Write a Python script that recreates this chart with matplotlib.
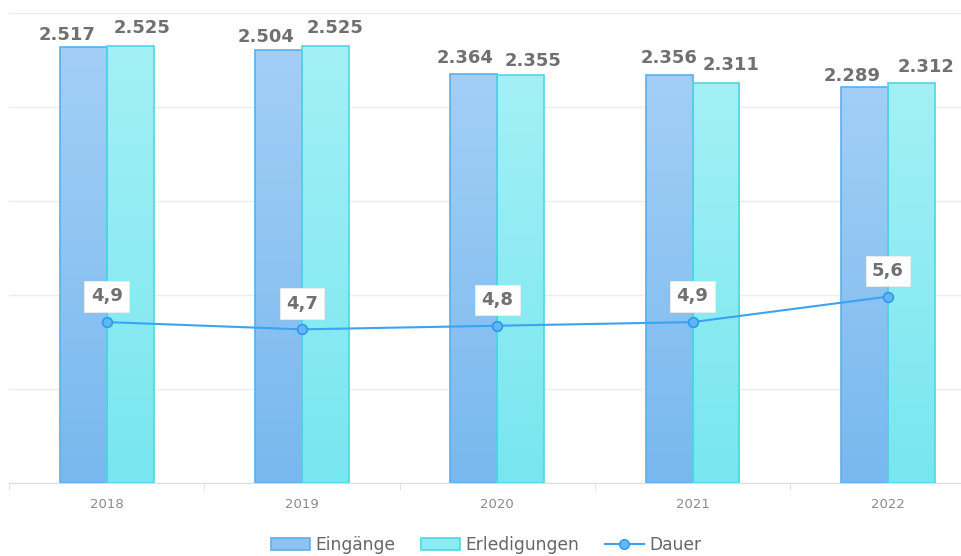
import numpy as np
import matplotlib
matplotlib.use('Agg')
import matplotlib.pyplot as plt
from matplotlib.patches import Patch
from matplotlib.lines import Line2D
from matplotlib.colors import to_rgb

# Data
years = ['2018', '2019', '2020', '2021', '2022']
eingaenge = [2517, 2504, 2364, 2356, 2289]
erledigungen = [2525, 2525, 2355, 2311, 2312]
dauer = [4.9, 4.7, 4.8, 4.9, 5.6]

# label nudges in pixels (the original chart shifts labels to avoid overlap)
left_dx = [-16, -12, -9, 0, -12]
left_dy = [3, 4, 7, 8, 2]
right_dx = [12, 10, 12, 15, 15]
right_dy = [9, 9, 5, 9, 7]

PX = 72 / 100  # points per pixel at dpi 100

def fmt_de(v, dec=0):
    s = f"{v:,.{dec}f}"
    return s.replace(',', 'X').replace('.', ',').replace('X', '.')

def gradient_bars(ax, bars, top, bottom, edge):
    c_top, c_bot = np.array(to_rgb(top)), np.array(to_rgb(bottom))
    t = np.linspace(0, 1, 256)[:, None, None]
    grad = c_bot * (1 - t) + c_top * t
    for b in bars:
        b.set_facecolor('none')
        b.set_edgecolor(edge)
        b.set_linewidth(1.2)
        b.set_zorder(3)
        x0, y0 = b.get_x(), b.get_y()
        im = ax.imshow(grad, extent=(x0, x0 + b.get_width(), y0, y0 + b.get_height()),
                       origin='lower', aspect='auto', zorder=2, interpolation='bilinear')
        im.set_clip_path(b)

fig = plt.figure(figsize=(9.61, 5.56), dpi=100)
ax = fig.add_axes([9 / 961, 73 / 556, 952 / 961, 470 / 556])

x = np.arange(len(years))
w = 0.24
b1 = ax.bar(x - w / 2, eingaenge, w)
b2 = ax.bar(x + w / 2, erledigungen, w)
gradient_bars(ax, b1, '#a3cff6', '#78b8ee', '#5eaee9')
gradient_bars(ax, b2, '#a3f0f6', '#78e6ef', '#4fd7e3')

ymax = 2715
ax.set_ylim(0, ymax)
ax.set_yticks(np.linspace(0, ymax, 6))
ax.yaxis.grid(True, color='#ececec', lw=1)
ax.set_axisbelow(True)
ax.tick_params(axis='y', length=0, labelleft=False)
for s in ['top', 'right', 'left']:
    ax.spines[s].set_visible(False)
ax.spines['bottom'].set_color('#dddddd')

ax.set_xticks(x)
ax.set_xticklabels(years)
ax.tick_params(axis='x', length=0, pad=11, labelsize=9.5, labelcolor='#8a8a8a')
ax.set_xticks(np.arange(-0.5, len(years), 1), minor=True)
ax.tick_params(axis='x', which='minor', length=5, color='#dddddd')

for i in range(len(years)):
    ax.annotate(fmt_de(eingaenge[i]), (x[i] - w / 2, eingaenge[i]),
                xytext=(left_dx[i] * PX, left_dy[i] * PX), textcoords='offset points',
                ha='center', va='bottom', fontsize=13, fontweight='bold',
                color='#707070', zorder=5)
    ax.annotate(fmt_de(erledigungen[i]), (x[i] + w / 2, erledigungen[i]),
                xytext=(right_dx[i] * PX, right_dy[i] * PX), textcoords='offset points',
                ha='center', va='bottom', fontsize=13, fontweight='bold',
                color='#707070', zorder=5)

# Dauer on secondary axis
ax2 = ax.twinx()
ax2.set_ylim(0.48, 13.39)
ax2.plot(x, dauer, color='#3aa3f2', lw=1.5, marker='o', ms=7,
         mfc='#62b6f6', mec='#2f98ee', mew=1.2, zorder=4)
for s in ax2.spines.values():
    s.set_visible(False)
ax2.set_yticks([])
for i in range(len(years)):
    ax2.annotate(fmt_de(dauer[i], 1), (x[i], dauer[i]), xytext=(0, 12),
                 textcoords='offset points', ha='center', va='bottom',
                 fontsize=13, fontweight='bold', color='#707070', zorder=6,
                 bbox=dict(boxstyle='square,pad=0.35', fc='white', ec='#eeeeee', lw=0.6))

# set the shared x range last, after both axes have autoscaled
ax.set_xlim(-0.5, -0.5 + 952 / 195.3)

handles = [
    Patch(facecolor='#8cc3f2', edgecolor='#5eaee9', lw=1.2),
    Patch(facecolor='#8aebf2', edgecolor='#4fd7e3', lw=1.2),
    Line2D([], [], color='#3aa3f2', lw=1.5, marker='o', ms=7, mfc='#62b6f6', mec='#2f98ee'),
]
leg = fig.legend(handles, ['Eingänge', 'Erledigungen', 'Dauer'], loc='center',
                 bbox_to_anchor=(486 / 961, 1 - 545 / 556), ncol=3, frameon=False,
                 fontsize=12.3, handlelength=2.3, handleheight=0.75, handletextpad=0.3,
                 columnspacing=1.5)
for t in leg.get_texts():
    t.set_color('#666666')

fig.savefig('out.png', dpi=100)
